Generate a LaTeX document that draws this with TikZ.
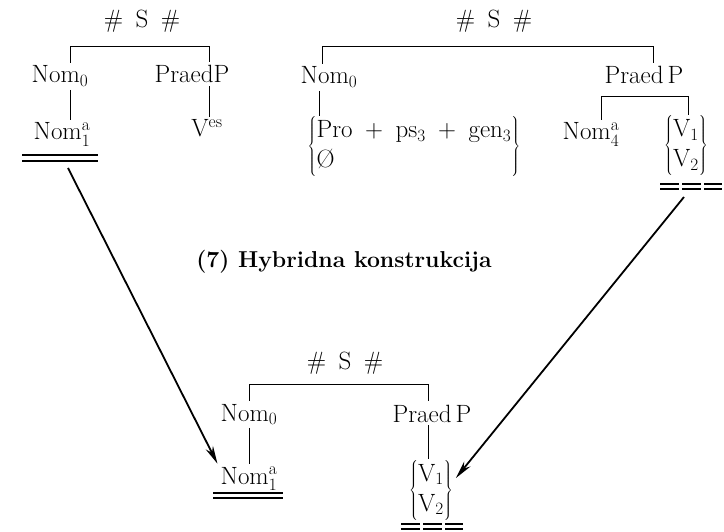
\documentclass[tikz,border=0pt]{standalone}
\usepackage{fontspec}
\usetikzlibrary{arrows.meta}
\begin{document}
\begin{tikzpicture}[x=1pt,y=-1pt,
  lbl/.style={font=\fontsize{25}{30}\selectfont, inner sep=3pt, anchor=base},
  grp/.style={font=\fontsize{25}{30}\selectfont, inner sep=1pt, anchor=center},
  captext/.style={font=\fontsize{23}{27}\selectfont\bfseries\addfontfeature{LetterSpace=5}, inner sep=0pt, anchor=base},
  tree/.style={line width=1pt},
  ul/.style={line width=1.3pt},
  arr/.style={line width=1.8pt, -{Stealth[length=18pt,width=8pt]}}]
\useasboundingbox (0,0) rectangle (724,532);

% left tree
\node[lbl] (LS) at (142,28) {$\#$\enspace S\enspace$\#$};
\node[lbl] (Lnom0) at (60,83) {Nom$_0$};
\node[lbl] (LP) at (192,83) {PraedP};
\node[lbl] (Lnom1) at (62,140) {Nom$^{\mathrm{a}}_1$};
\node[lbl] (Lv) at (207,137) {V$^{\mathrm{es}}$};
\coordinate (Lb1) at (70,47);
\coordinate (Lb2) at (209,47);
\draw[tree] (Lnom0.north -| Lb1) -- (Lb1) -- (Lb2) -- (LP.north -| Lb2);
\draw[tree] (Lnom0.south -| Lb1) -- (Lnom1.north -| Lb1);
\draw[tree] (LP.south -| Lb2) -- (Lv.north -| Lb2);
\draw[ul] (22,155) -- (98,155) (22,161) -- (98,161);

% right tree
\node[lbl] (RS) at (494,28) {$\#$\enspace S\enspace$\#$};
\node[lbl] (Rnom0) at (329,84) {Nom$_0$};
\node[lbl] (RP) at (644,84) {Praed\,P};
\node[grp] (Rpro) at (414,147) {$\left\{\begin{tabular}{@{}l@{}}Pro\enspace$+$\enspace ps$_3$\enspace$+$\enspace gen$_3$\\ \O\end{tabular}\right\}$};
\node[lbl] (Rnom4) at (591,140) {Nom$^{\mathrm{a}}_4$};
\node[grp] (Rv) at (686,146) {$\left\{\begin{tabular}{@{}l@{}}V$_1$\\ V$_2$\end{tabular}\right\}$};
\coordinate (Rb1) at (322,47);
\coordinate (Rb2) at (653,47);
\coordinate (Rx) at (319,0);
\coordinate (Rc1) at (601,97);
\coordinate (Rc2) at (688,97);
\draw[tree] (Rnom0.north -| Rb1) -- (Rb1) -- (Rb2) -- (RP.north -| Rb2);
\draw[tree] (Rnom0.south -| Rx) -- (Rpro.north -| Rx);
\draw[tree] (Rnom4.north -| Rc1) -- (Rc1) -- (Rc2) -- (Rv.north -| Rc2);
\foreach \a/\b in {660/679,682/701,704/722}{
  \draw[ul] (\a,184) -- (\b,184) (\a,189) -- (\b,189);}

% caption
\node[captext] (title) at (344,268) {(7) Hybridna konstrukcija};

% bottom tree
\node[lbl] (BS) at (345,370) {$\#$\enspace S\enspace$\#$};
\node[lbl] (Bnom0) at (249,421) {Nom$_0$};
\node[lbl] (BP) at (432,422) {Praed\,P};
\node[lbl] (Bnom1) at (249,484) {Nom$^{\mathrm{a}}_1$};
\node[grp] (Bv) at (431,490) {$\left\{\begin{tabular}{@{}l@{}}V$_1$\\ V$_2$\end{tabular}\right\}$};
\coordinate (Bb1) at (249,384);
\coordinate (Bb2) at (428,384);
\draw[tree] (Bnom0.north -| Bb1) -- (Bb1) -- (Bb2) -- (BP.north -| Bb2);
\draw[tree] (Bnom0.south -| Bb1) -- (Bnom1.north -| Bb1);
\draw[tree] (BP.south -| Bb2) -- (Bv.north -| Bb2);
\draw[ul] (213,493) -- (283,493) (213,498) -- (283,498);
\foreach \a/\b in {401/420,423/442,445/463}{
  \draw[ul] (\a,524) -- (\b,524) (\a,529) -- (\b,529);}

% arrows
\coordinate (LA) at (68,168);
\coordinate (RA) at (684,197);
\draw[arr] (LA) -- (Bnom1.north west);
\draw[arr] (RA) -- ([xshift=2pt,yshift=12pt]Bv.east);
\end{tikzpicture}
\end{document}
